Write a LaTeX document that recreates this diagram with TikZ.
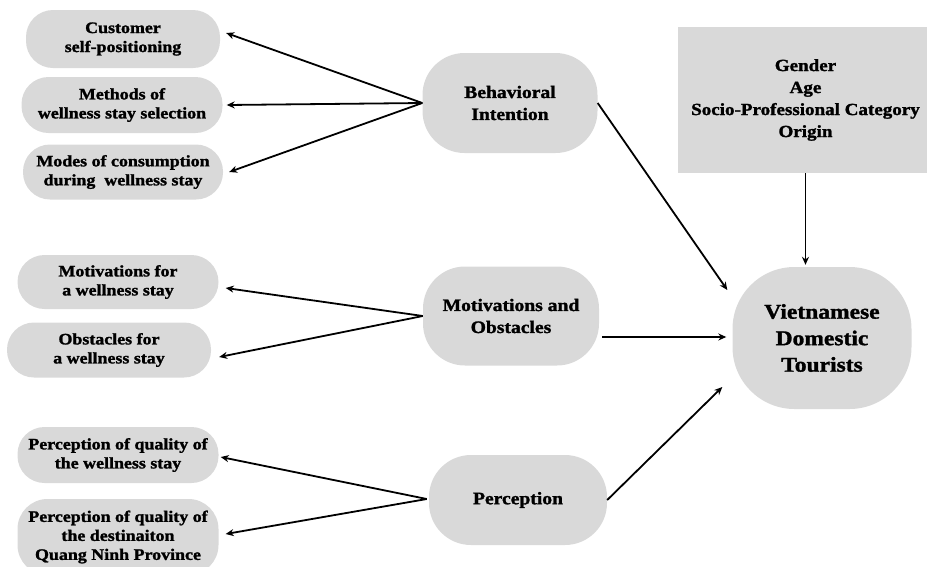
\documentclass[tikz,border=0pt]{standalone}
\usepackage{fontspec}
\newfontfamily\dfont{Liberation Serif Bold}[FakeStretch=1.12,FakeBold=1.5]
\usetikzlibrary{arrows.meta,calc}
\definecolor{boxgray}{HTML}{D9D9D9}
\tikzset{
  base/.style={fill=boxgray, draw=none, align=center, inner sep=0pt},
  small/.style={base, font=\dfont\fontsize{16}{19}\selectfont, rounded corners=27pt},
  big/.style={base, font=\dfont\fontsize{17.5}{22}\selectfont, rounded corners=42pt},
  conn/.style={line width=1.8pt, -{Stealth[length=8pt,width=7pt]}},
}
\begin{document}
\begin{tikzpicture}[x=1pt,y=1pt]
\useasboundingbox (0,0) rectangle (927,-566);
% left boxes
\node[small, minimum width=194pt, minimum height=58pt] (cust) at (123,-39) {Customer\\self-positioning};
\node[small, minimum width=201pt, minimum height=56pt] (meth) at (122,-105) {Methods of\\wellness stay selection};
\node[small, minimum width=200pt, minimum height=55pt] (modes) at (123,-172) {Modes of consumption\\during\ \ wellness stay};
\node[small, minimum width=201pt, minimum height=54pt] (motf) at (118,-282) {Motivations for\\a wellness stay};
\node[small, minimum width=204pt, minimum height=55pt] (obst) at (109,-350) {Obstacles for\\a wellness stay};
\node[small, minimum width=201pt, minimum height=56pt] (pqw) at (118,-455) {Perception of quality of\\the wellness stay};
\node[small, minimum width=201pt, minimum height=76pt, rounded corners=30pt] (pqd) at (118,-537) {Perception of quality of\\the destinaiton\\Quang Ninh Province};
% middle nodes
\node[big, minimum width=175pt, minimum height=100pt] (beh) at (510,-103) {Behavioral\\Intention};
\node[big, minimum width=176pt, minimum height=99pt] (mo) at (511,-316) {Motivations and\\Obstacles};
\node[big, minimum width=178pt, minimum height=90pt] (perc) at (518,-500) {Perception};
% right
\node[base, rounded corners=0pt, minimum width=255pt, minimum height=146pt, font=\dfont\fontsize{17}{22}\selectfont] (demo) at (805.5,-100) {Gender\\Age\\Socio-Professional Category\\Origin};
\node[base, rounded corners=62pt, minimum width=179pt, minimum height=142pt, font=\dfont\fontsize{21}{26.5}\selectfont] (viet) at (822,-338) {Vietnamese\\Domestic\\Tourists};
% connectors
\draw[conn] (beh.west) -- ($(cust.east)+(6,6)$);
\draw[conn] (beh.west) -- ($(meth.east)+(4,0)$);
\draw[conn] (beh.west) -- ($(modes.east)+(6,0)$);
\draw[conn] (mo.west) -- ($(motf.east)+(7,-6)$);
\draw[conn] (mo.west) -- ($(obst.east)+(8,-7)$);
\draw[conn] ($(perc.west)+(-2,1)$) -- ($(pqw.east)+(2,-2)$);
\draw[conn] ($(perc.west)+(-2,1)$) -- ($(pqd.east)+(7,3)$);
\draw[conn] (beh.east) -- ($(viet.west)+(-5,48)$);
\draw[conn] ($(mo.east)+(3,-21)$) -- ($(viet.west)+(-6,1)$);
\draw[conn] (perc.east) -- ($(viet.west)+(-10,-49)$);
\draw[conn, shorten >=2pt] (demo.south) -- (demo.south |- viet.north);
\end{tikzpicture}
\end{document}
